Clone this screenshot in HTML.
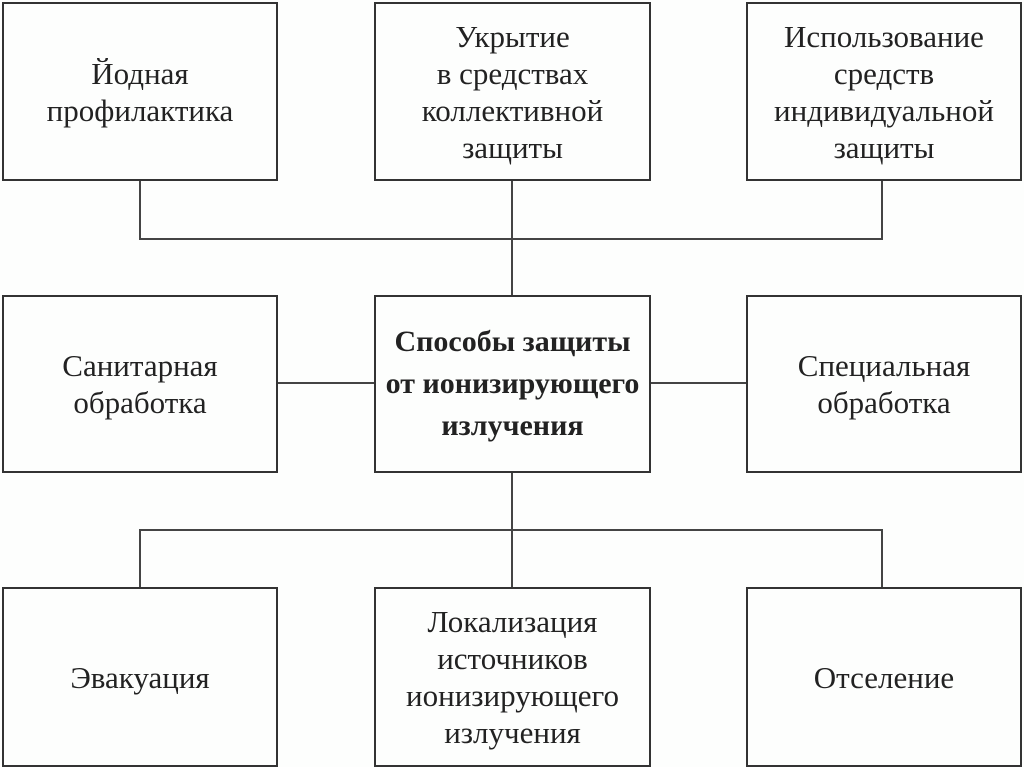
<!DOCTYPE html>
<html><head><meta charset="utf-8"><style>
body{margin:0;width:1024px;height:767px;background:#fdfefd;position:relative;overflow:hidden;font-family:"Liberation Serif","DejaVu Serif",serif;}
.b{position:absolute;box-sizing:border-box;border:2px solid #333;display:flex;align-items:center;justify-content:center;text-align:center;font-size:31px;line-height:37px;color:#222;background:#fdfefd;}
.l{position:absolute;background:#444;}
</style></head><body>
<div class="l" style="left:139px;top:180px;width:2px;height:60px"></div>
<div class="l" style="left:511px;top:180px;width:2px;height:116px"></div>
<div class="l" style="left:881px;top:180px;width:2px;height:60px"></div>
<div class="l" style="left:139px;top:238px;width:744px;height:2px"></div>
<div class="l" style="left:277px;top:382px;width:98px;height:2px"></div>
<div class="l" style="left:650px;top:382px;width:98px;height:2px"></div>
<div class="l" style="left:511px;top:472px;width:2px;height:116px"></div>
<div class="l" style="left:139px;top:529px;width:744px;height:2px"></div>
<div class="l" style="left:139px;top:529px;width:2px;height:59px"></div>
<div class="l" style="left:881px;top:529px;width:2px;height:59px"></div>

<div class="b" style="left:2px;top:2px;width:276px;height:179px">Йодная<br>профилактика</div>
<div class="b" style="left:374px;top:2px;width:277px;height:179px">Укрытие<br>в средствах<br>коллективной<br>защиты</div>
<div class="b" style="left:746px;top:2px;width:276px;height:179px">Использование<br>средств<br>индивидуальной<br>защиты</div>
<div class="b" style="left:2px;top:295px;width:276px;height:178px">Санитарная<br>обработка</div>
<div class="b" style="left:374px;top:295px;width:277px;height:178px;font-weight:bold;line-height:42px;font-size:30px">Способы защиты<br>от ионизирующего<br>излучения</div>
<div class="b" style="left:746px;top:295px;width:276px;height:178px">Специальная<br>обработка</div>
<div class="b" style="left:2px;top:587px;width:276px;height:180px">Эвакуация</div>
<div class="b" style="left:374px;top:587px;width:277px;height:180px">Локализация<br>источников<br>ионизирующего<br>излучения</div>
<div class="b" style="left:746px;top:587px;width:276px;height:180px">Отселение</div>
</body></html>
